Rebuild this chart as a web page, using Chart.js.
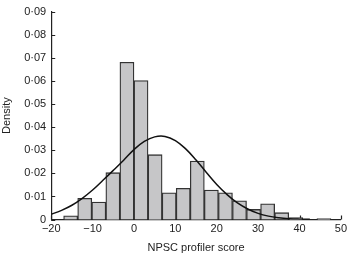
<!DOCTYPE html>
<html>
<head>
<meta charset="utf-8">
<script src="https://cdn.jsdelivr.net/npm/chart.js@4.4.1/dist/chart.umd.min.js"></script>
<style>
  html, body { margin: 0; padding: 0; background: #fff; }
  #wrap { width: 350px; height: 255px; position: relative; }
</style>
</head>
<body>
<div id="wrap"><canvas id="histChart"></canvas></div>
<script>
// histogram bins (left edges) and densities
const binStarts = [-17, -13.6, -10.2, -6.8, -3.4, 0, 3.4, 6.8, 10.2, 13.6, 17, 20.4, 23.8, 27.2, 30.6, 34, 37.4, 40.8, 44.2];
const binWidth = 3.4;
const density = [0.0016, 0.0092, 0.0076, 0.0203, 0.0681, 0.0602, 0.0281, 0.0116, 0.0135, 0.0253, 0.0128, 0.0116, 0.0081, 0.0044, 0.0068, 0.0030, 0.0009, 0.0000, 0.0004];

// fitted curve
const curveX = [-20, -17.5, -15, -12.5, -10, -7.5, -5, -2.5, 0, 2.5, 5, 7.5, 10, 12.5, 15, 17.5, 20, 22.5, 25, 27.5, 30, 32.5, 35, 37.5, 40, 42.5];
const curveY = [0.0023, 0.0040, 0.0062, 0.0092, 0.0128, 0.0170, 0.0213, 0.0257, 0.0303, 0.0338, 0.0358, 0.0360, 0.0342, 0.0306, 0.0258, 0.0204, 0.0152, 0.0108, 0.0072, 0.0046, 0.0027, 0.0015, 0.0008, 0.0004, 0.0002, 0.0001];

const xTicks = [-20, -10, 0, 10, 20, 30, 40, 50];
const yTicks = [0, 0.01, 0.02, 0.03, 0.04, 0.05, 0.06, 0.07, 0.08, 0.09];

const font = { family: "'Liberation Sans', Arial, sans-serif", size: 11 };

// tick marks point into the plot, drawn under the bars
const innerTicks = {
  id: "innerTicks",
  beforeDatasetsDraw(chart) {
    const { ctx, scales } = chart;
    const x = scales.x, y = scales.y;
    ctx.save();
    ctx.strokeStyle = "#222";
    ctx.lineWidth = 1.2;
    ctx.beginPath();
    yTicks.forEach(v => {
      const py = Math.round(y.getPixelForValue(v)) + 0.5;
      ctx.moveTo(x.left, py);
      ctx.lineTo(x.left + 4, py);
    });
    xTicks.forEach(v => {
      const px = Math.round(x.getPixelForValue(v)) + 0.5;
      ctx.moveTo(px, y.bottom);
      ctx.lineTo(px, y.bottom - 4);
    });
    ctx.stroke();
    ctx.restore();
  }
};

new Chart(document.getElementById("histChart"), {
  data: {
    datasets: [
      {
        type: "line",
        data: curveX.map((v, i) => ({ x: v, y: curveY[i] })),
        borderColor: "#111",
        borderWidth: 1.5,
        pointRadius: 0,
        tension: 0.4,
        fill: false,
        order: 0
      },
      {
        type: "bar",
        data: binStarts.map((v, i) => ({ x: v + binWidth / 2, y: density[i] })),
        backgroundColor: "#c6c6c8",
        borderColor: "#333",
        borderWidth: 1.3,
        barPercentage: 1,
        categoryPercentage: 1,
        order: 1
      }
    ]
  },
  options: {
    responsive: true,
    maintainAspectRatio: false,
    animation: false,
    layout: { padding: { top: 1, right: 0, left: 0, bottom: 0 } },
    plugins: { legend: { display: false }, tooltip: { enabled: false } },
    scales: {
      x: {
        type: "linear",
        min: -20,
        max: 50,
        offset: false,
        afterBuildTicks: (axis) => { axis.ticks = xTicks.map(v => ({ value: v })); },
        ticks: {
          color: "#222",
          font: font,
          padding: 3,
          maxRotation: 0,
          callback: (v) => String(v).replace("-", "\u2212")
        },
        grid: { display: false, drawTicks: false, offset: false },
        border: { display: true, color: "#222", width: 1.2 },
        title: { display: true, text: "NPSC profiler score", color: "#222", font: font, padding: { top: 3, bottom: 0 } }
      },
      y: {
        min: 0,
        max: 0.09,
        afterBuildTicks: (axis) => { axis.ticks = yTicks.map(v => ({ value: v })); },
        ticks: {
          color: "#222",
          font: font,
          padding: 5,
          callback: (v) => v === 0 ? "0" : v.toFixed(2).replace(".", "\u00b7")
        },
        grid: { display: false, drawTicks: false },
        border: { display: true, color: "#222", width: 1.2 },
        title: { display: true, text: "Density", color: "#222", font: font, padding: { top: 0, bottom: 6 } }
      }
    }
  },
  plugins: [innerTicks]
});
</script>
</body>
</html>
